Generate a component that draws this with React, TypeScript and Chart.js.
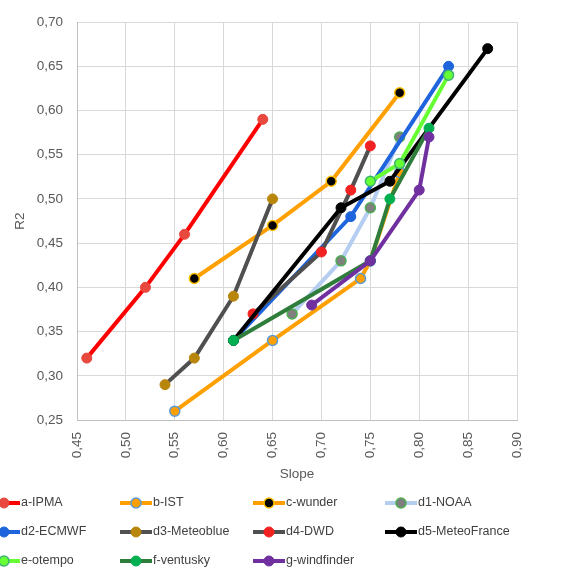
import React, { useEffect, useRef } from "react";
import { Chart, registerables } from "chart.js";

Chart.register(...registerables);

// ---- data ----
const seriesNames = [
  "a-IPMA", "b-IST", "c-wunder", "d1-NOAA",
  "d2-ECMWF", "d3-Meteoblue", "d4-DWD", "d5-MeteoFrance",
  "e-otempo", "f-ventusky", "g-windfinder",
];

const ipmaX = [0.46, 0.52, 0.56, 0.64];
const ipmaY = [0.32, 0.40, 0.46, 0.59];
const istX = [0.55, 0.65, 0.74, 0.75, 0.78];
const istY = [0.26, 0.34, 0.41, 0.43, 0.53];
const wunderX = [0.57, 0.65, 0.71, 0.78];
const wunderY = [0.41, 0.47, 0.52, 0.62];
const noaaX = [0.67, 0.72, 0.75, 0.78];
const noaaY = [0.37, 0.43, 0.49, 0.57];
const ecmwfX = [0.61, 0.73, 0.83];
const ecmwfY = [0.34, 0.48, 0.65];
const meteoblueX = [0.54, 0.57, 0.61, 0.65];
const meteoblueY = [0.29, 0.32, 0.39, 0.50];
const dwdX = [0.63, 0.70, 0.73, 0.75];
const dwdY = [0.37, 0.44, 0.51, 0.56];
const meteofranceX = [0.61, 0.72, 0.77, 0.87];
const meteofranceY = [0.34, 0.49, 0.52, 0.67];
const otempoX = [0.75, 0.78, 0.83];
const otempoY = [0.52, 0.54, 0.64];
const ventuskyX = [0.61, 0.75, 0.77, 0.81];
const ventuskyY = [0.34, 0.43, 0.50, 0.58];
const windfinderX = [0.69, 0.75, 0.80, 0.81];
const windfinderY = [0.38, 0.43, 0.51, 0.57];

const xTicks = { min: 0.45, max: 0.9, step: 0.05 };
const yTicks = { min: 0.25, max: 0.7, step: 0.05 };

// ---- styles ----
type Sty = { line: string; fill: string; border: string; bw: number };
const styles: Sty[] = [
  { line: "#FF0000", fill: "#E8483E", border: "#E8483E", bw: 1 },
  { line: "#FFA000", fill: "#FFA000", border: "#5B9BD5", bw: 1.5 },
  { line: "#FFA000", fill: "#000000", border: "#FFC000", bw: 1.5 },
  { line: "#B4CDF0", fill: "#7F7F7F", border: "#4CAF50", bw: 1.5 },
  { line: "#1E64DC", fill: "#1E64DC", border: "#1E64DC", bw: 1 },
  { line: "#505050", fill: "#B8860B", border: "#B8860B", bw: 1 },
  { line: "#505050", fill: "#F22222", border: "#F22222", bw: 1 },
  { line: "#000000", fill: "#000000", border: "#000000", bw: 1 },
  { line: "#66FF33", fill: "#66FF33", border: "#3CB371", bw: 1.5 },
  { line: "#2E7D3A", fill: "#00B050", border: "#00B050", bw: 1 },
  { line: "#7030A0", fill: "#7030A0", border: "#7030A0", bw: 1 },
];

const allX = [ipmaX, istX, wunderX, noaaX, ecmwfX, meteoblueX, dwdX, meteofranceX, otempoX, ventuskyX, windfinderX];
const allY = [ipmaY, istY, wunderY, noaaY, ecmwfY, meteoblueY, dwdY, meteofranceY, otempoY, ventuskyY, windfinderY];

const fmt = (v: number) => Number(v).toFixed(2).replace(".", ",");

const legendPlugin = {
  id: "excelLegend",
  afterDraw(chart: any) {
    const ctx = chart.ctx as CanvasRenderingContext2D;
    const colLineStart = [-12, 120, 253, 385];
    const rowY = [503, 532, 561];
    ctx.save();
    ctx.font = "12.5px 'Liberation Sans', Arial, sans-serif";
    ctx.textBaseline = "middle";
    ctx.textAlign = "left";
    seriesNames.forEach((name, i) => {
      const r = Math.floor(i / 4);
      const c = i % 4;
      const x0 = colLineStart[c];
      const y = rowY[r];
      const s = styles[i];
      ctx.strokeStyle = s.line;
      ctx.lineWidth = 4;
      ctx.beginPath();
      ctx.moveTo(x0, y);
      ctx.lineTo(x0 + 32, y);
      ctx.stroke();
      ctx.beginPath();
      ctx.arc(x0 + 16, y, 5, 0, Math.PI * 2);
      ctx.fillStyle = s.fill;
      ctx.fill();
      ctx.lineWidth = s.bw;
      ctx.strokeStyle = s.border;
      ctx.stroke();
      ctx.fillStyle = "#404040";
      ctx.fillText(name, x0 + 33, y);
    });
    ctx.restore();
  },
};

export default function App() {
  const ref = useRef<HTMLCanvasElement | null>(null);
  useEffect(() => {
    if (!ref.current) return;
    const n = seriesNames.length;
    const datasets = seriesNames.map((name, i) => ({
      label: name,
      data: allX[i].map((x, k) => ({ x, y: allY[i][k] })),
      borderColor: styles[i].line,
      backgroundColor: styles[i].fill,
      borderWidth: 4,
      pointRadius: 5,
      pointBackgroundColor: styles[i].fill,
      pointBorderColor: styles[i].border,
      pointBorderWidth: styles[i].bw,
      tension: 0,
      order: n - i,
      showLine: true,
    }));
    const tickFont = { family: "'Liberation Sans', Arial, sans-serif", size: 13.5 };
    const chart = new Chart(ref.current, {
      type: "line",
      data: { datasets },
      options: {
        animation: false,
        responsive: false,
        maintainAspectRatio: false,
        layout: { padding: { left: 0, top: 14, right: 70, bottom: 82 } },
        plugins: { legend: { display: false }, tooltip: { enabled: false } },
        scales: {
          x: {
            type: "linear",
            min: xTicks.min,
            max: xTicks.max,
            afterFit: (s: any) => { s.height = 70; },
            ticks: {
              stepSize: xTicks.step,
              minRotation: 90,
              maxRotation: 90,
              padding: 12,
              color: "#595959",
              font: tickFont,
              callback: (v: any) => fmt(v),
            },
            grid: { color: "#D9D9D9", drawTicks: false },
            border: { color: "#BFBFBF" },
            title: {
              display: true,
              text: "Slope",
              color: "#595959",
              font: tickFont,
              padding: { top: 0, bottom: 8 },
            },
          },
          y: {
            type: "linear",
            min: yTicks.min,
            max: yTicks.max,
            afterFit: (s: any) => { s.width = 77; },
            ticks: {
              stepSize: yTicks.step,
              padding: 14,
              color: "#595959",
              font: tickFont,
              callback: (v: any) => fmt(v),
            },
            grid: { color: "#D9D9D9", drawTicks: false },
            border: { color: "#BFBFBF" },
            title: {
              display: true,
              text: "R2",
              color: "#595959",
              font: tickFont,
              padding: { top: 12, bottom: 0 },
            },
          },
        },
      },
      plugins: [legendPlugin],
    } as any);
    return () => chart.destroy();
  }, []);
  return (
    <div style={{ position: "fixed", left: 0, top: 0, width: 587, height: 572, background: "#fff" }}>
      <canvas ref={ref} width={587} height={572} style={{ display: "block" }} />
    </div>
  );
}
